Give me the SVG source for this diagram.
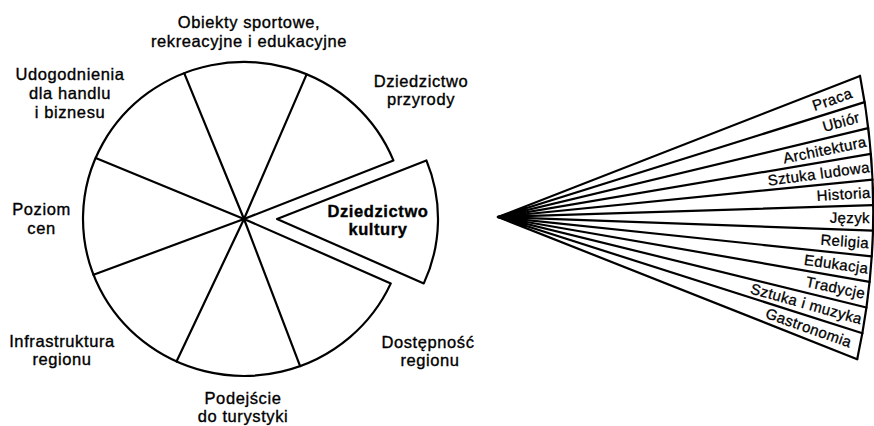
<svg xmlns="http://www.w3.org/2000/svg" width="874" height="426" viewBox="0 0 874 426">
<style>
.ln{fill:none;stroke:#000;stroke-width:2.2;stroke-linejoin:round;stroke-linecap:round}
.sh{fill:#fff;stroke:#000;stroke-width:2.2;stroke-linejoin:round}
.tip{fill:#000;stroke:none}
.lb{font-family:"Liberation Sans",Arial,sans-serif;font-size:16.5px;letter-spacing:0.6px;fill:#000;stroke:#000;stroke-width:0.35px;text-anchor:middle}
.bd{font-weight:bold}
.fl{font-family:"Liberation Sans",Arial,sans-serif;font-size:15px;letter-spacing:0.4px;fill:#000;stroke:#000;stroke-width:0.3px;text-anchor:end}
</style>
<rect width="874" height="426" fill="#fff"/>

<g id="pie">
<path class="sh" d="M244 219 L393.4 160.4 A161 157 0 1 0 390.8 283.4 Z"/>
</g>
<g id="slice-dziedzictwo-kultury">
<path class="sh" d="M277 219 L426.4 160.4 A161 157 0 0 1 423.8 283.4 Z"/>
<text class="lb bd" x="378" y="216.7">Dziedzictwo</text>
<text class="lb bd" x="378" y="235">kultury</text>
</g>

<g id="connectors">
<g id="pie-dividers">
<line class="ln" x1="244" y1="219" x2="184.2" y2="73.2"/>
<line class="ln" x1="244" y1="219" x2="306.6" y2="74.4"/>
<line class="ln" x1="244" y1="219" x2="300.1" y2="366.2"/>
<line class="ln" x1="244" y1="219" x2="176.5" y2="361.5"/>
<line class="ln" x1="244" y1="219" x2="93.5" y2="274.8"/>
<line class="ln" x1="244" y1="219" x2="95.7" y2="157.9"/>
</g>
<g id="fan-lines">
<polygon class="tip" points="498,217 526,206.1 526,228.1"/>
<line class="ln" x1="498" y1="217" x2="860" y2="75.9"/>
<line class="ln" x1="498" y1="217" x2="864.6" y2="102.1"/>
<line class="ln" x1="498" y1="217" x2="868.2" y2="128.1"/>
<line class="ln" x1="498" y1="217" x2="870.8" y2="153.9"/>
<line class="ln" x1="498" y1="217" x2="872.5" y2="179.6"/>
<line class="ln" x1="498" y1="217" x2="873.1" y2="205.2"/>
<line class="ln" x1="498" y1="217" x2="872.8" y2="230.7"/>
<line class="ln" x1="498" y1="217" x2="871.6" y2="256.3"/>
<line class="ln" x1="498" y1="217" x2="869.6" y2="281.8"/>
<line class="ln" x1="498" y1="217" x2="866.4" y2="307.5"/>
<line class="ln" x1="498" y1="217" x2="862.4" y2="333.3"/>
<line class="ln" x1="498" y1="217" x2="857.2" y2="359.2"/>
<path class="ln" d="M860 75.9 A700 700 0 0 1 857.2 359.2"/>
</g>
</g>

<g id="label-obiekty"><text class="lb" x="249" y="28">Obiekty sportowe,</text><text class="lb" x="249" y="46.5">rekreacyjne i edukacyjne</text></g>
<g id="label-udogodnienia"><text class="lb" x="70" y="80">Udogodnienia</text><text class="lb" x="70" y="99">dla handlu</text><text class="lb" x="70" y="118">i biznesu</text></g>
<g id="label-przyrody"><text class="lb" x="421" y="86.5">Dziedzictwo</text><text class="lb" x="421" y="105">przyrody</text></g>
<g id="label-poziom"><text class="lb" x="41.5" y="215">Poziom</text><text class="lb" x="41.5" y="233.5">cen</text></g>
<g id="label-infrastruktura"><text class="lb" x="62" y="346.7">Infrastruktura</text><text class="lb" x="62" y="365">regionu</text></g>
<g id="label-podejscie"><text class="lb" x="243" y="404">Podejście</text><text class="lb" x="243" y="422">do turystyki</text></g>
<g id="label-dostepnosc"><text class="lb" x="428" y="348">Dostępność</text><text class="lb" x="430" y="366">regionu</text></g>

<g id="fan-labels">
<text class="fl" transform="translate(498 217) rotate(-19.35)" x="375" y="5">Praca</text>
<text class="fl" transform="translate(498 217) rotate(-15.45)" x="375" y="5">Ubiór</text>
<text class="fl" transform="translate(498 217) rotate(-11.55)" x="376" y="5">Architektura</text>
<text class="fl" transform="translate(498 217) rotate(-7.65)" x="375" y="5">Sztuka ludowa</text>
<text class="fl" transform="translate(498 217) rotate(-3.75)" x="373.5" y="5">Historia</text>
<text class="fl" transform="translate(498 217) rotate(0.15)" x="372" y="5">Język</text>
<text class="fl" transform="translate(498 217) rotate(4.05)" x="372" y="5">Religia</text>
<text class="fl" transform="translate(498 217) rotate(7.95)" x="374" y="5">Edukacja</text>
<text class="fl" transform="translate(498 217) rotate(11.85)" x="375" y="5">Tradycje</text>
<text class="fl" transform="translate(498 217) rotate(15.75)" x="378" y="5">Sztuka i muzyka</text>
<text class="fl" transform="translate(498 217) rotate(19.65)" x="375" y="5">Gastronomia</text>
</g>
</svg>
